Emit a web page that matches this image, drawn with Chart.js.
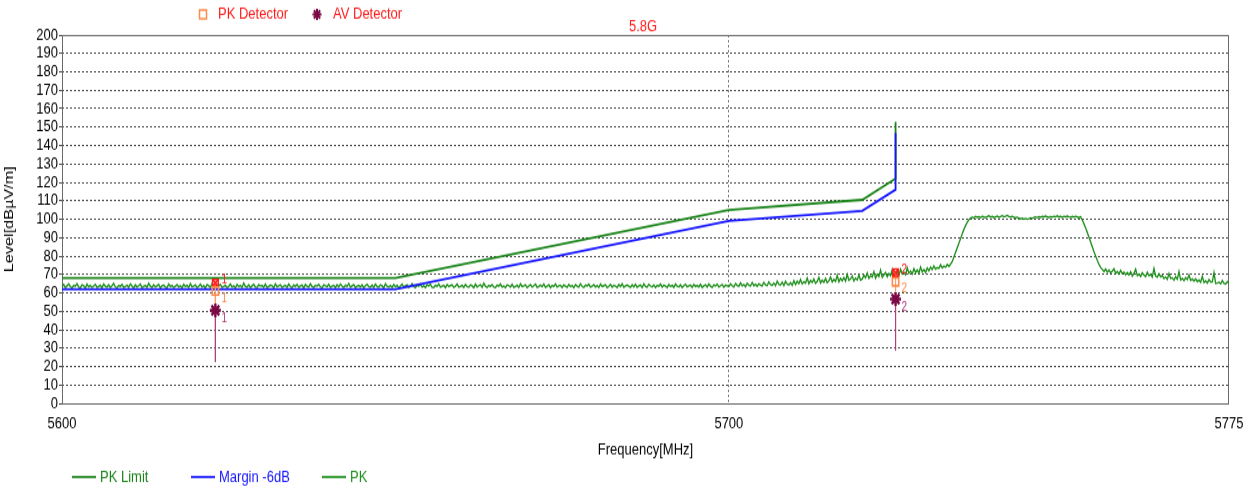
<!DOCTYPE html>
<html>
<head>
<meta charset="utf-8">
<script src="https://cdn.jsdelivr.net/npm/chart.js@4.4.1/dist/chart.umd.min.js"></script>
<style>
html,body{margin:0;padding:0;background:#fff}
body{width:1250px;height:487px}
#wrap{width:1250px;height:390px;transform:scaleY(1.24872);transform-origin:0 0}
canvas{display:block}
</style>
</head>
<body>
<div id="wrap"><canvas id="c" width="1250" height="390"></canvas></div>
<script>
// ---------- data ----------
const xTickValues = [5600, 5700, 5775];
const yMin = 0, yMax = 200, yStep = 10;

const limitFreqs = [5600, 5650, 5700, 5720, 5725, 5725];
const pkLimitLevels = [68.0, 68.0, 105.0, 110.5, 122.0, 152.8];
const marginLevels  = [62.0, 62.0, 99.0, 104.5, 116.0, 146.8];

const traceStartMHz = 5600;
const traceStepMHz = 0.25;
const pkTraceLevels = [
  63.2,64.5,62.9,63.8,64.9,63.4,62.7,64.1,63.6,65.0,63.1,62.8,64.3,63.9,62.6,64.7,63.3,64.0,62.9,63.7,
  64.6,63.0,63.5,64.2,62.7,64.8,63.6,63.1,64.4,62.9,63.9,65.1,63.2,62.8,64.0,63.5,64.6,62.9,63.4,64.2,
  63.0,64.9,63.7,62.6,64.3,63.2,63.9,64.7,62.8,63.5,64.1,63.0,65.2,63.6,62.9,64.4,63.3,63.8,64.6,62.7,
  63.9,64.2,63.1,62.8,64.8,63.5,64.0,62.9,63.6,64.5,63.2,63.9,62.7,64.6,63.4,64.1,62.9,65.0,63.3,63.7,
  64.3,62.8,63.6,64.7,63.1,63.9,62.6,64.4,63.8,63.0,64.9,63.4,62.9,64.2,63.7,64.6,63.0,63.5,64.1,62.8,
  63.6,64.8,63.2,63.9,62.7,64.5,63.4,64.0,62.9,65.3,63.5,63.1,64.3,62.8,63.8,64.6,63.2,62.9,64.4,63.7,
  64.0,63.1,64.7,62.8,63.5,64.2,63.9,62.7,64.9,63.3,63.8,64.4,62.9,63.6,64.1,63.0,64.8,63.4,62.8,64.3,
  63.5,64.6,63.0,63.8,64.2,62.7,64.5,63.6,63.1,64.9,63.4,62.9,64.0,63.7,64.6,63.2,62.8,64.3,63.9,63.3,
  64.7,63.0,63.6,64.1,62.9,64.4,63.3,64.8,63.7,62.8,64.2,63.5,65.1,63.0,63.8,64.5,62.9,63.6,64.0,63.2,
  64.4,62.8,63.9,64.6,63.4,63.0,64.2,62.9,64.7,63.5,63.1,64.3,63.8,62.7,64.9,63.6,63.2,64.0,62.9,64.5,
  63.3,64.1,62.8,63.7,64.8,63.2,63.9,64.4,62.9,63.5,65.0,63.4,62.8,64.2,63.6,64.7,63.1,63.8,62.9,64.3,
  63.8,64.6,63.0,62.9,64.2,63.5,64.9,63.2,63.7,64.0,62.8,64.5,63.4,63.9,64.3,62.9,63.6,64.8,63.1,63.5,
  64.1,62.9,64.6,63.4,63.0,64.3,63.8,62.8,64.7,63.2,63.9,64.4,63.0,65.2,63.6,62.9,64.0,63.5,64.5,63.1,
  62.9,64.2,63.6,64.8,63.1,63.7,62.8,64.4,63.9,63.2,64.6,63.0,63.5,64.1,62.9,64.9,63.4,63.8,64.3,62.8,
  63.7,64.5,63.1,63.9,64.7,62.9,63.5,64.2,63.3,64.8,63.0,63.6,64.4,62.8,64.0,63.5,64.9,63.2,63.8,64.1,
  62.9,64.3,63.6,63.0,64.6,63.4,64.0,62.8,64.5,63.7,63.2,65.0,63.5,62.9,64.2,63.8,64.7,63.1,63.6,64.4,
  63.2,64.0,62.9,64.8,63.5,63.9,64.3,62.8,63.6,64.6,63.1,64.1,63.7,62.9,64.5,63.4,64.9,63.0,63.8,64.2,
  63.6,62.9,64.4,63.3,64.7,63.0,63.8,64.2,62.9,64.9,63.5,63.1,64.6,63.7,63.2,64.3,62.9,64.0,63.6,64.8,
  63.1,64.2,63.7,62.9,64.5,63.4,64.1,63.0,64.8,63.6,63.2,64.4,62.9,63.9,64.7,63.3,63.8,64.2,63.0,64.6,
  63.5,64.0,63.2,64.7,62.9,63.8,64.4,63.1,64.9,63.6,63.0,64.3,63.7,64.8,63.2,63.9,64.5,63.1,64.2,63.8,
  63.4,64.9,63.9,63.2,65.1,64.0,63.6,65.4,63.8,64.5,63.3,65.2,64.1,63.7,65.6,63.9,64.6,63.5,65.0,64.2,
  63.8,65.7,64.3,63.9,66.0,64.5,64.1,65.3,63.9,66.4,64.6,64.2,65.8,64.0,66.2,64.8,64.3,65.5,64.1,66.6,
  64.5,66.3,65.0,67.2,64.8,66.0,65.3,68.1,64.9,66.7,65.6,67.5,65.1,66.2,68.4,65.4,66.9,65.7,67.8,65.5,
  66.5,68.6,65.9,67.3,66.2,69.5,66.0,67.9,66.6,68.3,66.4,70.0,66.8,67.6,69.1,66.5,68.0,67.0,69.7,66.9,
  67.5,69.6,68.2,70.8,67.8,69.2,68.6,71.5,67.9,70.1,68.9,72.3,68.4,69.8,71.0,68.7,70.5,69.3,72.6,69.0,
  70.0,71.9,69.4,72.8,70.3,71.2,69.9,73.6,70.6,71.8,70.2,73.1,71.0,72.4,70.7,74.0,71.3,72.6,71.1,73.5,
  72.0,73.9,72.6,74.6,72.9,73.7,73.3,75.2,73.6,74.5,73.9,75.4,74.4,75.6,77.0,79.5,82.0,84.5,87.0,89.5,
  92.0,94.5,96.5,98.3,99.7,100.6,101.1,100.7,101.5,101.0,101.3,100.8,101.6,101.2,100.9,101.4,101.8,101.1,101.5,100.9,
  101.3,101.7,101.0,101.5,101.9,101.3,101.6,102.1,101.4,101.2,101.6,101.0,100.7,101.1,100.5,100.2,100.6,100.0,100.4,99.9,
  100.3,100.7,100.4,100.9,101.2,100.8,101.3,101.0,101.5,101.2,101.7,101.3,100.9,101.4,101.1,101.6,101.3,101.8,101.2,101.5,
  101.0,101.6,101.2,101.7,101.3,101.0,101.5,101.1,101.6,101.2,100.9,101.3,99.5,97.5,95.3,92.8,90.2,87.6,85.0,82.4,
  80.0,77.6,75.5,73.8,72.8,71.6,73.0,71.2,72.4,70.8,71.9,73.1,70.6,71.5,70.2,72.2,70.5,71.3,69.9,71.0,
  69.7,71.4,69.2,70.5,72.8,69.4,70.1,68.9,70.9,69.6,68.8,71.2,69.3,70.0,68.6,73.2,69.1,68.5,70.3,68.7,
  69.4,67.8,68.6,67.3,70.5,67.9,68.2,66.9,68.8,67.4,71.6,67.0,67.8,66.6,68.3,67.2,69.7,66.8,67.5,66.4,
  67.6,66.1,67.0,65.8,68.9,65.6,66.5,65.3,67.2,65.9,66.0,71.0,65.1,65.4,65.8,64.9,66.7,65.2,64.8,66.1,
  65.0
];

const markerFreqs = [5623, 5725];
const markerNames = ['1', '2'];
const markerTraceLevels = [65.4, 70.9];
const pkDetectorLevels = [61.0, 66.0];
const avDetectorLevels = [50.5, 56.6];
const stemBaseLevels = [22.5, 28.8];

// ---------- colours / layout ----------
const C = {
  limit: '#1a841a',
  margin: '#1515ff',
  trace: '#1f8f1c',
  red: '#ff1a1a',
  pk: '#ff8a4a',
  av: '#7a0a45',
  avStem: '#b0407a',
  pkStem: '#ff9a6a',
  grid: '#4a4a4a',
  frame: '#6a6a6a'
};
const FONT = '"Liberation Sans", Arial, Helvetica, sans-serif';
Chart.defaults.font.family = FONT;
Chart.defaults.font.size = 13;
Chart.defaults.color = '#000';

// ---------- build datasets ----------
const pairXY = (xs, ys) => xs.map((f, i) => ({ x: f, y: ys[i] }));
const traceData = pkTraceLevels.map((v, i) => ({ x: traceStartMHz + i * traceStepMHz, y: v }));
function stems(topArr, botArr) {
  const out = [];
  markerFreqs.forEach((f, i) => {
    if (i > 0) out.push({ x: f, y: null });
    out.push({ x: f, y: topArr[i] });
    out.push({ x: f, y: botArr[i] });
  });
  return out;
}

const datasets = [
  { label: 'PK Limit', data: pairXY(limitFreqs, pkLimitLevels), borderColor: C.limit, borderWidth: 1.8, order: 3 },
  { label: 'Margin -6dB', data: pairXY(limitFreqs, marginLevels), borderColor: C.margin, borderWidth: 1.8, order: 2 },
  { label: 'PK', data: traceData, borderColor: C.trace, borderWidth: 1.35, order: 4 },
  { label: 'pkStem', data: stems(markerTraceLevels, avDetectorLevels), borderColor: C.pkStem, borderWidth: 1, spanGaps: false, order: 1 },
  { label: 'avStem', data: stems(avDetectorLevels, stemBaseLevels), borderColor: C.avStem, borderWidth: 1, spanGaps: false, order: 1 },
  { label: 'PK Detector', data: pairXY(markerFreqs, pkDetectorLevels), showLine: false, pointStyle: 'rect', pointRadius: 4.5,
    pointBorderColor: C.pk, pointBackgroundColor: 'rgba(255,255,255,0)', pointBorderWidth: 1.6, order: 0 },
  { label: 'AV Detector', data: pairXY(markerFreqs, avDetectorLevels), showLine: false, pointStyle: 'star', pointRadius: 5.5,
    pointBorderColor: C.av, pointBackgroundColor: C.av, pointBorderWidth: 2.4, order: 0 },
  { label: 'markBox', data: pairXY(markerFreqs, markerTraceLevels), showLine: false, pointStyle: 'rect', pointRadius: 4,
    pointBorderColor: C.red, pointBackgroundColor: 'rgba(255,255,255,0)', pointBorderWidth: 1.5, order: 0 },
  { label: 'markX', data: pairXY(markerFreqs, markerTraceLevels), showLine: false, pointStyle: 'crossRot', pointRadius: 4,
    pointBorderColor: C.red, pointBorderWidth: 1.5, order: 0 }
];
datasets.forEach(d => { d.pointRadius = d.pointRadius || 0; d.tension = 0; d.fill = false; });

// ---------- decorations plugin ----------
function drawStar(ctx, x, y, r, color, w) {
  ctx.save();
  ctx.strokeStyle = color; ctx.lineWidth = w;
  ctx.beginPath();
  for (let k = 0; k < 4; k++) {
    const a = k * Math.PI / 4;
    ctx.moveTo(x - r * Math.cos(a), y - r * Math.sin(a));
    ctx.lineTo(x + r * Math.cos(a), y + r * Math.sin(a));
  }
  ctx.stroke();
  ctx.restore();
}

const decor = {
  id: 'decor',
  beforeDatasetsDraw(chart) {
    const { ctx, chartArea: a } = chart;
    ctx.save();
    ctx.strokeStyle = C.frame; ctx.lineWidth = 1;
    ctx.strokeRect(Math.round(a.left) + 0.5, Math.round(a.top) + 0.5,
                   Math.round(a.right - a.left) - 1, Math.round(a.bottom - a.top));
    ctx.restore();
  },
  afterDraw(chart) {
    const { ctx, chartArea: a, scales: { x, y } } = chart;
    ctx.save();
    ctx.textBaseline = 'middle';
    ctx.textAlign = 'left';
    ctx.font = '13px ' + FONT;

    // top legend (detectors)
    const pkSet = chart.data.datasets[5], avSet = chart.data.datasets[6];
    ctx.strokeStyle = C.pk; ctx.lineWidth = 1.5;
    ctx.strokeRect(199.5, 8, 7, 7);
    ctx.fillStyle = C.red;
    ctx.fillText(pkSet.label, 218, 11.5);
    drawStar(ctx, 317, 11.5, 4.5, C.av, 2);
    ctx.fillStyle = C.red;
    ctx.fillText(avSet.label, 333, 11.5);

    // chart title
    ctx.textAlign = 'center';
    ctx.fillText('5.8G', 643, 21.6);

    // bottom legend (lines)
    ctx.textAlign = 'left';
    const starts = [72, 191, 322];
    [0, 1, 2].forEach((di, k) => {
      const ds = chart.data.datasets[di];
      const ly = 382;
      ctx.strokeStyle = ds.borderColor; ctx.lineWidth = 1.7;
      ctx.beginPath(); ctx.moveTo(starts[k], ly); ctx.lineTo(starts[k] + 24, ly); ctx.stroke();
      ctx.fillStyle = ds.borderColor;
      ctx.fillText(ds.label, starts[k] + 28, ly);
    });

    // marker numbers
    ctx.font = '10px ' + FONT;
    markerFreqs.forEach((f, i) => {
      const px = x.getPixelForValue(f);
      ctx.fillStyle = C.red;
      ctx.fillText(markerNames[i], px + 6, y.getPixelForValue(markerTraceLevels[i]) - 2);
      ctx.fillStyle = C.pk;
      ctx.fillText(markerNames[i], px + 6, y.getPixelForValue(pkDetectorLevels[i]) + 6);
      ctx.fillStyle = C.avStem;
      ctx.fillText(markerNames[i], px + 6, y.getPixelForValue(avDetectorLevels[i]) + 7);
    });
    ctx.restore();
  }
};

// ---------- chart ----------
new Chart(document.getElementById('c'), {
  type: 'line',
  data: { datasets },
  options: {
    responsive: false,
    animation: false,
    devicePixelRatio: 1,
    parsing: true,
    layout: { padding: { top: 28, right: 21, bottom: 20, left: 0 } },
    plugins: { legend: { display: false }, tooltip: { enabled: false }, title: { display: false } },
    scales: {
      x: {
        type: 'linear', min: xTickValues[0], max: xTickValues[xTickValues.length - 1],
        afterBuildTicks(s) { s.ticks = xTickValues.map(v => ({ value: v })); },
        afterFit(s) { s.height = 47; s.paddingRight = 0; s.paddingLeft = 0; },
        ticks: { padding: 9, maxRotation: 0, autoSkip: false, color: '#000', callback: v => String(v) },
        grid: {
          drawTicks: false, lineWidth: 1,
          color: c => (c.tick && c.tick.value > xTickValues[0] && c.tick.value < xTickValues[xTickValues.length - 1]) ? '#7a7a7a' : 'rgba(0,0,0,0)'
        },
        border: { display: false, dash: [2, 2] },
        title: { display: true, text: 'Frequency[MHz]', color: '#000', padding: { top: 0, bottom: 2 } }
      },
      y: {
        min: yMin, max: yMax,
        afterFit(s) { s.width = 62; },
        ticks: { stepSize: yStep, padding: 1, autoSkip: false, color: '#000' },
        grid: { color: C.grid, lineWidth: 1, tickLength: 3, drawTicks: true },
        border: { display: false, dash: [2, 2] },
        title: { display: true, text: 'Level[dBµV/m]', color: '#000', padding: { top: 2, bottom: 0 } }
      }
    }
  },
  plugins: [decor]
});
</script>
</body>
</html>
